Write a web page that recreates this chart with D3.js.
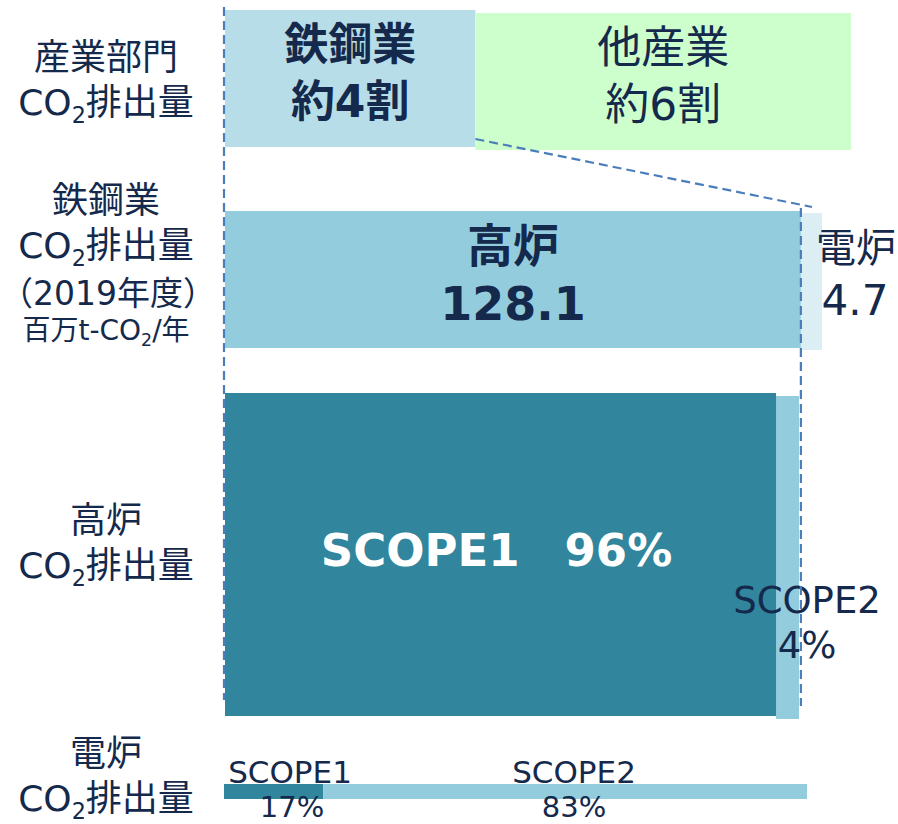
<!DOCTYPE html>
<html>
<head>
<meta charset="utf-8">
<script src="https://cdn.jsdelivr.net/npm/d3@7"></script>
<style>
  html, body { margin: 0; padding: 0; background: #fff; }
  svg text { font-family: "DejaVu Sans", "Noto Sans CJK JP", sans-serif; fill: #14294b; }
</style>
</head>
<body>
<svg id="chart"></svg>
<script>
// dados
const sectorNames  = ["鉄鋼業", "他産業"];
const sectorShares = [40, 60];            // % das emissões do setor industrial
const sectorLabels = ["約4割", "約6割"];

const furnaceNames     = ["高炉", "電炉"];
const furnaceEmissions = [128.1, 4.7];    // 百万t-CO2/年 (2019年度)

const scopeNames     = ["SCOPE1", "SCOPE2"];
const bfScopeShares  = [96, 4];           // 高炉
const eafScopeShares = [17, 83];          // 電炉

const rowTitles = [
  ["産業部門", "CO{2}排出量"],
  ["鉄鋼業", "CO{2}排出量", "（2019年度）", "百万t-CO{2}/年"],
  ["高炉", "CO{2}排出量"],
  ["電炉", "CO{2}排出量"]
];

const W = 898, H = 824;
const DASH = "#4a7ebb";

const svg = d3.select("#chart").attr("width", W).attr("height", H);

// escalas (uma por linha)
const x1 = d3.scaleLinear().domain([0, d3.sum(sectorShares)]).range([225, 851]);
const x2 = d3.scaleLinear().domain([0, d3.sum(furnaceEmissions)]).range([225, 822]);
const x3 = d3.scaleLinear().domain([0, 100]).range([225, 799]);
const x4 = d3.scaleLinear().domain([0, 100]).range([224, 807]);

const cumul = arr => arr.map((d, i) => d3.sum(arr.slice(0, i)));

// texto com subscrito: "CO{2}" -> CO + 2 rebaixado
function richText(g, str, x, y, size, weight, fill) {
  const t = g.append("text")
    .attr("x", x).attr("y", y)
    .attr("text-anchor", "middle")
    .style("font-size", size + "px")
    .style("font-weight", weight || "normal");
  if (fill) t.style("fill", fill);
  const parts = str.split(/\{(\d)\}/);
  let shifted = false;
  parts.forEach((p, i) => {
    if (p === "") return;
    const sp = t.append("tspan").text(p);
    if (i % 2 === 1) {
      sp.style("font-size", (size * 0.62) + "px").attr("dy", size * 0.21);
      shifted = true;
    } else if (shifted) {
      sp.attr("dy", -size * 0.21);
      shifted = false;
    }
  });
  return t;
}

// ---- linha 1: setores
const row1 = svg.append("g");
const row1Data = sectorNames.map((n, i) => ({
  name: n, label: sectorLabels[i], v: sectorShares[i], start: cumul(sectorShares)[i]
}));
row1.selectAll("rect").data(row1Data).enter().append("rect")
  .attr("x", d => x1(d.start))
  .attr("y", (d, i) => i === 0 ? 10 : 13)
  .attr("width", d => x1(d.start + d.v) - x1(d.start))
  .attr("height", 137)
  .attr("fill", (d, i) => i === 0 ? "#b7dde8" : "#ccffcc");
row1Data.forEach((d, i) => {
  const cx = (x1(d.start) + x1(d.start + d.v)) / 2;
  const w = i === 0 ? "bold" : "normal";
  richText(row1, d.name, cx, i === 0 ? 60 : 63, 44, w);
  richText(row1, d.label, cx, i === 0 ? 117 : 120, 44, w);
});

// ---- linha 2: alto-forno x forno elétrico
const row2 = svg.append("g");
const row2Data = furnaceNames.map((n, i) => ({
  name: n, v: furnaceEmissions[i], start: cumul(furnaceEmissions)[i]
}));
row2.selectAll("rect").data(row2Data).enter().append("rect")
  .attr("x", d => x2(d.start))
  .attr("y", (d, i) => i === 0 ? 211 : 213)
  .attr("width", d => x2(d.start + d.v) - x2(d.start))
  .attr("height", 137)
  .attr("fill", (d, i) => i === 0 ? "#93cddd" : "#daeef3");
{
  const d = row2Data[0];
  const cx = (x2(d.start) + x2(d.start + d.v)) / 2;
  richText(row2, d.name, cx, 262, 46, "bold");
  richText(row2, d3.format(".1f")(d.v), cx, 320, 46, "bold");
  const e = row2Data[1];
  richText(row2, e.name, 856, 262, 40);
  richText(row2, d3.format(".1f")(e.v), 855, 315, 42);
}

// ---- linha 3: escopos do alto-forno
const row3 = svg.append("g");
const s3 = cumul(bfScopeShares);
// SCOPE2 atrás, levemente deslocado
row3.append("rect")
  .attr("x", x3(s3[1]))
  .attr("y", 396)
  .attr("width", x3(s3[1] + bfScopeShares[1]) - x3(s3[1]))
  .attr("height", 323)
  .attr("fill", "#93cddd");
row3.append("rect")
  .attr("x", x3(s3[0]))
  .attr("y", 393)
  .attr("width", x3(bfScopeShares[0]) - x3(s3[0]))
  .attr("height", 323)
  .attr("fill", "#31859c");
richText(row3, scopeNames[0] + "　" + bfScopeShares[0] + "%", (x3(0) + x3(bfScopeShares[0])) / 2 - 4, 566, 45, "bold", "#ffffff");
richText(row3, scopeNames[1], 807, 613, 37);
richText(row3, bfScopeShares[1] + "%", 807, 658, 37);

// ---- linha 4: escopos do forno elétrico
const row4 = svg.append("g");
const s4 = cumul(eafScopeShares);
row4.selectAll("rect").data(eafScopeShares).enter().append("rect")
  .attr("x", (d, i) => x4(s4[i]))
  .attr("y", 784)
  .attr("width", (d, i) => x4(s4[i] + d) - x4(s4[i]))
  .attr("height", 15)
  .attr("fill", (d, i) => i === 0 ? "#31859c" : "#93cddd");
richText(row4, scopeNames[0], 290, 783, 31);
richText(row4, eafScopeShares[0] + "%", 292, 817, 29);
richText(row4, scopeNames[1], 574, 783, 31);
richText(row4, eafScopeShares[1] + "%", 574, 817, 29);

// ---- linhas tracejadas de ligação
const guides = svg.append("g")
  .attr("fill", "none")
  .attr("stroke", DASH)
  .attr("stroke-width", 2.2)
  .attr("stroke-dasharray", "9 5");
guides.append("line")
  .attr("x1", x1(0) - 1).attr("y1", 7)
  .attr("x2", x1(0) - 1).attr("y2", 700);
guides.append("line")
  .attr("x1", x1(sectorShares[0])).attr("y1", 139)
  .attr("x2", x2(d3.sum(furnaceEmissions)) - 10).attr("y2", 207);
guides.append("line")
  .attr("x1", x2(furnaceEmissions[0])).attr("y1", 208)
  .attr("x2", x2(furnaceEmissions[0])).attr("y2", 706);

// ---- títulos das linhas (à esquerda)
const titles = svg.append("g");
const titleBaselines = [[70, 115], [213, 258, 305, 340], [533, 578], [766, 811]];
rowTitles.forEach((lines, r) => {
  lines.forEach((ln, j) => {
    const small = r === 1 && j === 3;
    const paren = r === 1 && j === 2;
    richText(titles, ln, paren ? 108 : 106, titleBaselines[r][j], small ? 28 : (paren ? 33 : 36));
  });
});
</script>
</body>
</html>
